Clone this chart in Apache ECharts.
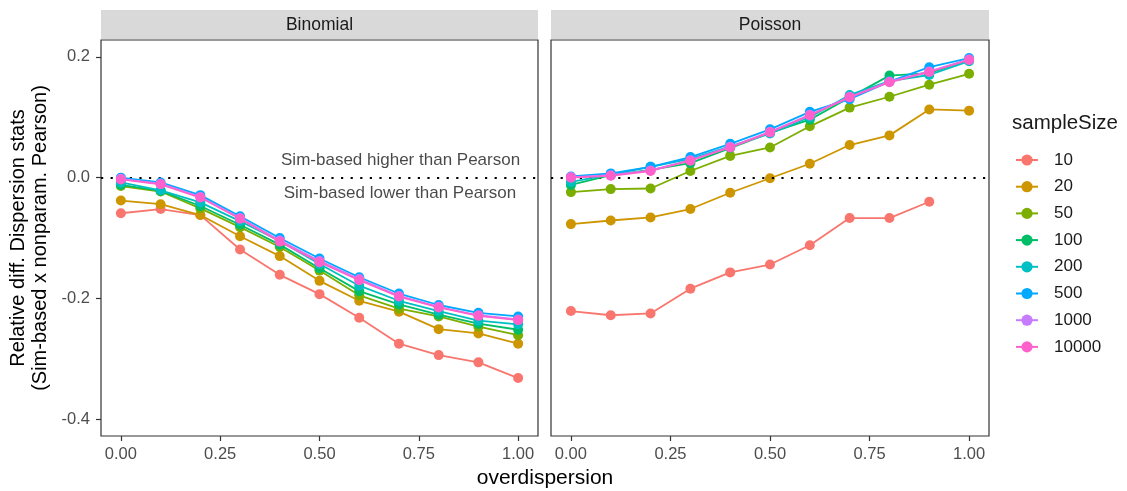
<!DOCTYPE html>
<html>
<head>
<meta charset="utf-8">
<script src="https://cdn.jsdelivr.net/npm/echarts@6/dist/echarts.min.js"></script>
<style>html,body{margin:0;padding:0;background:#fff}#c{width:1127px;height:491px}</style>
</head>
<body>
<div id="c"></div>
<script>
const overdispersion = [0, 0.1, 0.2, 0.3, 0.4, 0.5, 0.6, 0.7, 0.8, 0.9, 1.0];
const sampleSizes = ['10', '20', '50', '100', '200', '500', '1000', '10000'];
const panels = ['Binomial', 'Poisson'];
const xTicks = [0, 0.25, 0.5, 0.75, 1.0];
const yTicks = [-0.4, -0.2, 0, 0.2];

const binom10    = [-0.059, -0.052, -0.062, -0.119, -0.161, -0.193, -0.232, -0.275, -0.294, -0.306, -0.332];
const binom20    = [-0.038, -0.044, -0.062, -0.097, -0.130, -0.171, -0.204, -0.222, -0.251, -0.258, -0.275];
const binom50    = [-0.014, -0.023, -0.051, -0.082, -0.115, -0.154, -0.195, -0.217, -0.230, -0.247, -0.261];
const binom100   = [-0.012, -0.022, -0.047, -0.078, -0.111, -0.150, -0.188, -0.210, -0.227, -0.242, -0.252];
const binom200   = [-0.008, -0.021, -0.041, -0.072, -0.105, -0.143, -0.179, -0.204, -0.221, -0.237, -0.243];
const binom500   = [0.000, -0.008, -0.029, -0.064, -0.100, -0.134, -0.165, -0.192, -0.211, -0.224, -0.230];
const binom1000  = [-0.002, -0.010, -0.032, -0.067, -0.104, -0.138, -0.168, -0.196, -0.214, -0.228, -0.235];
const binom10000 = [-0.003, -0.011, -0.033, -0.068, -0.106, -0.140, -0.170, -0.197, -0.215, -0.229, -0.236];

const pois10    = [-0.221, -0.228, -0.225, -0.184, -0.157, -0.144, -0.112, -0.067, -0.067, -0.040, null];
const pois20    = [-0.077, -0.071, -0.066, -0.052, -0.025, -0.001, 0.023, 0.054, 0.070, 0.113, 0.111];
const pois50    = [-0.024, -0.019, -0.018, 0.011, 0.036, 0.050, 0.085, 0.116, 0.134, 0.154, 0.172];
const pois100   = [-0.012, 0.004, 0.013, 0.024, 0.049, 0.074, 0.096, 0.133, 0.169, 0.173, 0.195];
const pois200   = [-0.007, 0.005, 0.018, 0.031, 0.052, 0.073, 0.100, 0.137, 0.160, 0.170, 0.193];
const pois500   = [0.002, 0.007, 0.018, 0.034, 0.056, 0.080, 0.109, 0.130, 0.159, 0.183, 0.198];
const pois1000  = [0.001, 0.004, 0.012, 0.029, 0.051, 0.076, 0.104, 0.134, 0.159, 0.176, 0.196];
const pois10000 = [0.000, 0.003, 0.011, 0.028, 0.050, 0.075, 0.103, 0.133, 0.158, 0.175, 0.195];

const binomData = [binom10, binom20, binom50, binom100, binom200, binom500, binom1000, binom10000];
const poisData = [pois10, pois20, pois50, pois100, pois200, pois500, pois1000, pois10000];
const colors = ['#F8766D', '#CD9600', '#7CAE00', '#00BE67', '#00BFC4', '#00A9FF', '#C77CFF', '#FF61CC'];

const annotations = [
  { text: 'Sim-based higher than Pearson', x: 1.005, y: 0.029 },
  { text: 'Sim-based lower than Pearson', x: 0.995, y: -0.026 }
];

const FONT = 'Liberation Sans, Arial, sans-serif';
const chart = echarts.init(document.getElementById('c'));

const grids = [
  { left: 101, right: 589, top: 40, bottom: 55, show: true, borderColor: '#333', borderWidth: 1.2, backgroundColor: 'transparent' },
  { left: 551, right: 138, top: 40, bottom: 55, show: true, borderColor: '#333', borderWidth: 1.2, backgroundColor: 'transparent' }
];

function xAxis(i) {
  return {
    type: 'value', gridIndex: i, min: -0.05, max: 1.05,
    axisLine: { show: false, onZero: false },
    splitLine: { show: false },
    axisTick: { show: true, customValues: xTicks, length: 5, lineStyle: { color: '#333', width: 1.2 } },
    axisLabel: { customValues: xTicks, formatter: v => v.toFixed(2), color: '#4D4D4D', fontSize: 16.5, fontFamily: FONT, margin: 10 }
  };
}
function yAxis(i) {
  return {
    type: 'value', gridIndex: i, min: -0.428, max: 0.228,
    axisLine: { show: false, onZero: false },
    splitLine: { show: false },
    axisTick: { show: i === 0, customValues: yTicks, length: 5, lineStyle: { color: '#333', width: 1.2 } },
    axisLabel: { show: i === 0, customValues: yTicks, formatter: v => v.toFixed(1), color: '#4D4D4D', fontSize: 16.5, fontFamily: FONT, margin: 11 }
  };
}

const series = [];
[binomData, poisData].forEach((set, p) => {
  set.forEach((vals, k) => {
    series.push({
      name: sampleSizes[k], type: 'line', xAxisIndex: p, yAxisIndex: p,
      data: overdispersion.map((x, j) => [x, vals[j]]),
      connectNulls: false,
      symbol: 'circle', symbolSize: 10, showSymbol: true,
      itemStyle: { color: colors[k] },
      lineStyle: { color: colors[k], width: 1.8 },
      z: 2 + k, animation: false
    });
  });
  series.push({
    type: 'line', xAxisIndex: p, yAxisIndex: p, data: [], silent: true,
    markLine: { silent: true, symbol: 'none', label: { show: false },
      lineStyle: { type: [2.2, 7.4], color: '#000', width: 2.2 }, data: [{ yAxis: 0 }] },
    z: 1, animation: false
  });
});
series.push({
  type: 'scatter', xAxisIndex: 0, yAxisIndex: 0, symbolSize: 0, silent: true,
  data: annotations.map(a => ({ value: [a.x, a.y], label: { formatter: a.text } })),
  label: { show: true, position: 'left', distance: 0, color: '#1A1A1A', fontSize: 17, fontFamily: FONT },
  z: 20, animation: false
});

chart.setOption({
  animation: false,
  backgroundColor: '#fff',
  textStyle: { fontFamily: FONT },
  grid: grids,
  xAxis: [xAxis(0), xAxis(1)],
  yAxis: [yAxis(0), yAxis(1)],
  legend: {
    data: sampleSizes, orient: 'vertical', left: 1015, top: 151.5, padding: 0,
    itemWidth: 22, itemHeight: 14, itemGap: 9.7,
    textStyle: { fontSize: 17, lineHeight: 17, color: '#1A1A1A', fontFamily: FONT, padding: [0, 0, 0, 11] },
    selectedMode: false
  },
  title: [
    { text: 'sampleSize', left: 1012, top: 113, padding: 0, textStyle: { fontSize: 20.5, fontWeight: 'normal', color: '#1A1A1A', fontFamily: FONT } }
  ],
  graphic: [
    { type: 'rect', shape: { x: 101, y: 10, width: 437, height: 29 }, style: { fill: '#D9D9D9' }, z: 0 },
    { type: 'rect', shape: { x: 551, y: 10, width: 438, height: 29 }, style: { fill: '#D9D9D9' }, z: 0 },
    { type: 'text', x: 319.5, y: 25, style: { text: panels[0], fontSize: 17.5, fill: '#1A1A1A', align: 'center', verticalAlign: 'middle', fontFamily: FONT } },
    { type: 'text', x: 770, y: 25, style: { text: panels[1], fontSize: 17.5, fill: '#1A1A1A', align: 'center', verticalAlign: 'middle', fontFamily: FONT } },
    { type: 'text', x: 545, y: 478, style: { text: 'overdispersion', fontSize: 21, fill: '#000', align: 'center', verticalAlign: 'middle', fontFamily: FONT } },
    { type: 'text', x: 29, y: 238, rotation: Math.PI / 2, style: { text: 'Relative diff. Dispersion stats\n(Sim-based x nonparam. Pearson)', fontSize: 20, lineHeight: 22, fill: '#000', align: 'center', verticalAlign: 'middle', fontFamily: FONT } }
  ],
  series: series
});
</script>
</body>
</html>
